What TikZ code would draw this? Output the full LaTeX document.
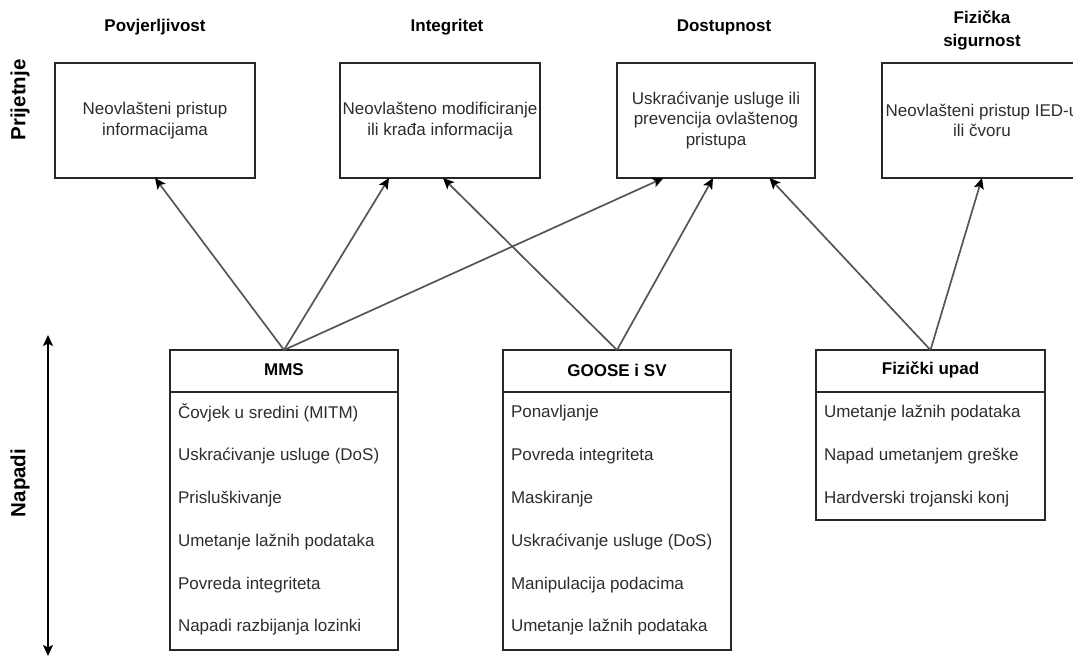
\documentclass[tikz,border=0pt]{standalone}
\usepackage{fontspec}
\setmainfont{Liberation Sans}
\usetikzlibrary{arrows.meta,calc}

\definecolor{txt}{RGB}{45,45,45}
\definecolor{edge}{RGB}{40,40,40}
\definecolor{link}{RGB}{85,85,85}

\tikzset{
  every node/.style={inner sep=0pt, outer sep=0pt, text=txt,
    font=\fontsize{17}{20.5}\selectfont},
  threat/.style={draw=edge, line width=1.5pt, minimum width=200pt,
    minimum height=115pt, align=center},
  heading/.style={font=\fontsize{17}{23}\selectfont\bfseries, text=black, align=center},
  sidelabel/.style={font=\fontsize{20.5}{24}\selectfont\bfseries, text=black, rotate=90},
  attack/.style={draw=edge, line width=1.5pt, minimum width=228pt, anchor=north},
  attackhead/.style={font=\fontsize{17}{20}\selectfont\bfseries, text=black},
  item/.style={anchor=west},
  link/.style={draw=link, line width=1.7pt,
    -{Stealth[length=11pt,width=10pt,inset=2.5pt,color=black]}},
  axis/.style={draw=black, line width=1.6pt,
    {Stealth[length=11pt,width=10pt,inset=2.5pt]}-{Stealth[length=11pt,width=10pt,inset=2.5pt]}}
}

\begin{document}
\begin{tikzpicture}[x=1pt,y=-1pt]
  \useasboundingbox (0,0) rectangle (1073,660);
  \clip (0,0) rectangle (1073,660);

  % side labels and vertical axis
  \node[sidelabel] (lblthreat) at (20,100) {Prijetnje};
  \node[sidelabel] (lblattack) at (20,483) {Napadi};
  \coordinate (axtop) at (48,335);
  \coordinate (axbot) at (48,656);
  \draw[axis] (axtop) -- (axbot);

  % threat categories
  \node[heading] (h1) at (155,27) {Povjerljivost};
  \node[heading] (h2) at (447,27) {Integritet};
  \node[heading] (h3) at (724,27) {Dostupnost};
  \node[heading] (h4) at (982,30) {Fizička\\sigurnost};

  \node[threat] (t1) at (155,120.5) {Neovlašteni pristup\\informacijama};
  \node[threat] (t2) at (440,120.5) {Neovlašteno modificiranje\\ili krađa informacija};
  \node[threat, minimum width=198pt] (t3) at (716,120.5) {Uskraćivanje usluge ili\\prevencija ovlaštenog\\pristupa};
  \node[threat] (t4) at (982,120.5) {Neovlašteni pristup IED-u\\ili čvoru};

  % attack groups
  \node[attack, minimum height=300pt] (mms) at (284,350) {};
  \draw[edge, line width=1.5pt] (170,392) -- (398,392);
  \node[attackhead] (mmsh) at (284,370) {MMS};
  \node[item] (m1) at (178,413) {Čovjek u sredini (MITM)};
  \node[item] (m2) at (178,456) {Uskraćivanje usluge (DoS)};
  \node[item] (m3) at (178,499) {Prisluškivanje};
  \node[item] (m4) at (178,542) {Umetanje lažnih podataka};
  \node[item] (m5) at (178,585) {Povreda integriteta};
  \node[item] (m6) at (178,627) {Napadi razbijanja lozinki};

  \node[attack, minimum height=300pt] (goose) at (617,350) {};
  \draw[edge, line width=1.5pt] (503,392) -- (731,392);
  \node[attackhead] (gooseh) at (617,370) {GOOSE i SV};
  \node[item] (g1) at (511,413) {Ponavljanje};
  \node[item] (g2) at (511,456) {Povreda integriteta};
  \node[item] (g3) at (511,499) {Maskiranje};
  \node[item] (g4) at (511,542) {Uskraćivanje usluge (DoS)};
  \node[item] (g5) at (511,585) {Manipulacija podacima};
  \node[item] (g6) at (511,627) {Umetanje lažnih podataka};

  \node[attack, minimum width=229pt, minimum height=170pt] (phys) at (930.5,350) {};
  \draw[edge, line width=1.5pt] (816,392) -- (1045,392);
  \node[attackhead] (physh) at (930.5,370) {Fizički upad};
  \node[item] (p1) at (824,413) {Umetanje lažnih podataka};
  \node[item] (p2) at (824,456) {Napad umetanjem greške};
  \node[item] (p3) at (824,499) {Hardverski trojanski konj};

  % attack -> threat links
  \draw[link] (mms.north) -- (t1.south);
  \draw[link] (mms.north) -- ($(t2.south west)!0.245!(t2.south east)$);
  \draw[link] (mms.north) -- ($(t3.south west)!0.235!(t3.south east)$);
  \draw[link] (goose.north) -- ($(t2.south west)!0.515!(t2.south east)$);
  \draw[link] (goose.north) -- ($(t3.south west)!0.485!(t3.south east)$);
  \draw[link] (phys.north) -- ($(t3.south west)!0.77!(t3.south east)$);
  \draw[link] (phys.north) -- (t4.south);
\end{tikzpicture}
\end{document}
